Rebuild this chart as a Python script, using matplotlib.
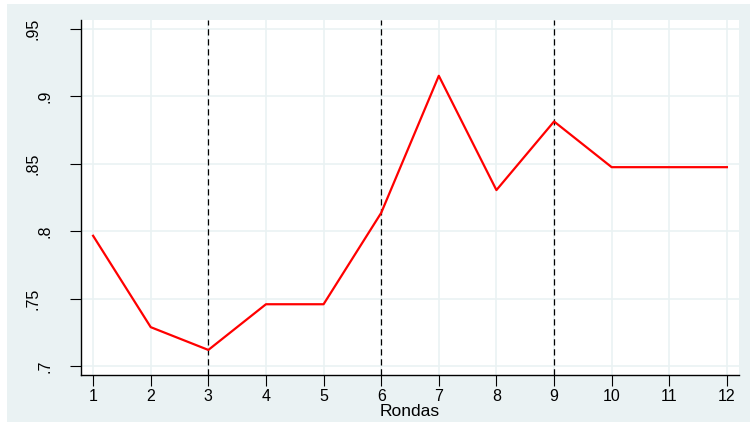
import matplotlib
matplotlib.use("Agg")
import matplotlib.pyplot as plt
import matplotlib.transforms as mtransforms
from matplotlib.patches import Rectangle

rondas = [1, 2, 3, 4, 5, 6, 7, 8, 9, 10, 11, 12]
valores = [0.7966, 0.7288, 0.7119, 0.7458, 0.7458, 0.8136,
           0.9153, 0.8305, 0.8814, 0.8475, 0.8475, 0.8475]
yticks = [0.7, 0.75, 0.8, 0.85, 0.9, 0.95]
ylabels = [".7", ".75", ".8", ".85", ".9", ".95"]
cortes = [3, 6, 9]

BG = "#eaf2f3"
plt.rcParams["font.family"] = ["Liberation Sans", "DejaVu Sans"]

fig = plt.figure(figsize=(7.5, 4.26), dpi=100)
fig.patches.append(Rectangle((7 / 750, 4 / 426), 743 / 750, 418 / 426,
                             transform=fig.transFigure, facecolor=BG,
                             edgecolor="none", zorder=-10))
ax = fig.add_axes([81 / 750, 51 / 426, 658 / 750, 355 / 426])
ax.set_facecolor("white")

ax.plot(rondas, valores, color="red", lw=1.6, zorder=3)
for c in cortes:
    ax.axvline(c, color="black", lw=0.9, ls=(0, (5, 3)), zorder=2)

ax.set_xlim(0.79, 12.21)
ax.set_ylim(0.6933, 0.9567)
ax.set_xticks(rondas)
ax.set_yticks(yticks)
ax.set_yticklabels([])
ax.grid(True, color=BG, lw=1.2, zorder=1)
ax.tick_params(direction="out", length=8, width=0.8, labelsize=11.5, pad=2)
for s in ["top", "right"]:
    ax.spines[s].set_visible(False)
for s in ["left", "bottom"]:
    ax.spines[s].set_linewidth(1.0)
ax.set_xlabel("Rondas", fontsize=12.5, labelpad=0)

# Stata-style rotated y labels (short labels sit closer to the axis)
trans = mtransforms.blended_transform_factory(fig.transFigure, ax.transData)
for v, lab in zip(yticks, ylabels):
    xpos = 33 / 750 if len(lab) > 2 else 45 / 750
    ax.text(xpos, v, lab, transform=trans, rotation=90, fontsize=11.5,
            ha="center", va="center", clip_on=False)

fig.savefig("out.png", dpi=100)
